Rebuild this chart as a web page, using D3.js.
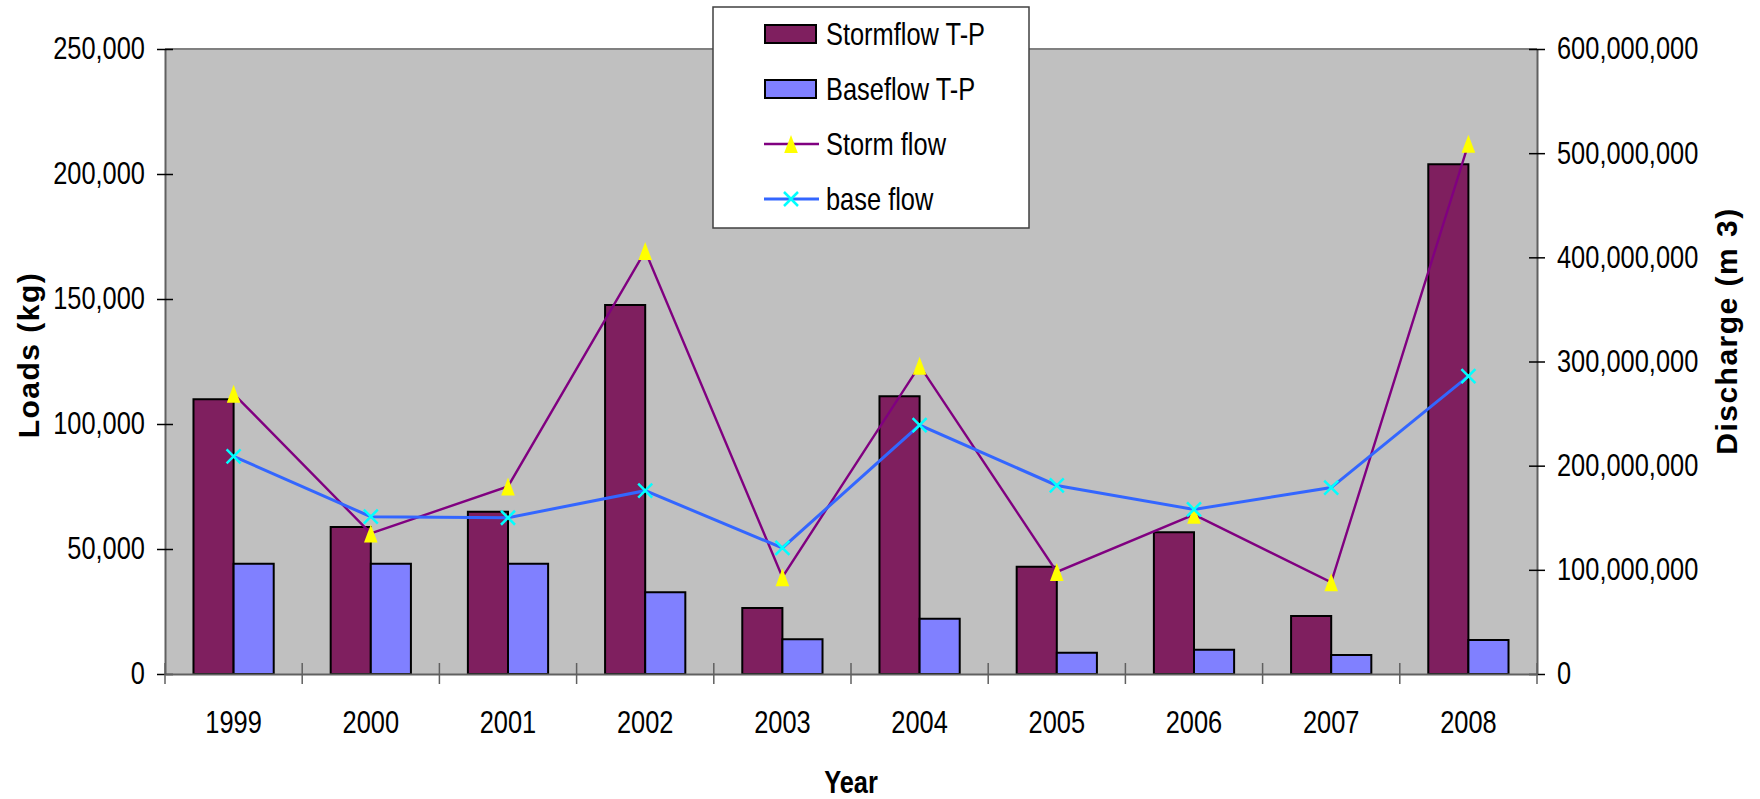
<!DOCTYPE html>
<html>
<head>
<meta charset="utf-8">
<script src="https://cdn.jsdelivr.net/npm/d3@7/dist/d3.min.js"></script>
<style>
  html, body { margin: 0; padding: 0; background: #fff; }
  svg text { font-family: 'Liberation Sans', Arial, sans-serif; fill: #000; }
</style>
</head>
<body>
<svg id="chart" width="1760" height="799"></svg>
<script>
// Annual total phosphorus loads (kg) and discharge volumes (m3)
const years = ["1999", "2000", "2001", "2002", "2003", "2004", "2005", "2006", "2007", "2008"];
const stormflowTP = [109900, 58800, 64900, 147600, 26400, 111100, 42900, 56700, 23200, 203900];
const baseflowTP  = [44100, 44100, 44100, 32700, 13900, 22100, 8500, 9700, 7600, 13600];
const stormFlow   = [269e6, 135e6, 180e6, 406e6, 93e6, 296e6, 98e6, 153e6, 88e6, 509e6];
const baseFlow    = [209e6, 151e6, 150e6, 176e6, 121e6, 239e6, 181e6, 158e6, 179e6, 286e6];
const loadTicks      = [0, 50000, 100000, 150000, 200000, 250000];
const dischargeTicks = [0, 100e6, 200e6, 300e6, 400e6, 500e6, 600e6];

const svg = d3.select("#chart");
const plot = { left: 165, right: 1537, top: 49, bottom: 674 };

const x = d3.scaleBand().domain(years).range([plot.left, plot.right]).paddingInner(0).paddingOuter(0);
const inner = d3.scaleBand().domain(["storm", "base"]).range([0, x.bandwidth()]).paddingInner(0).paddingOuter(0.71);
const yL = d3.scaleLinear().domain([0, 250000]).range([plot.bottom, plot.top]);
const yR = d3.scaleLinear().domain([0, 600e6]).range([plot.bottom, plot.top]);
const fmt = d3.format(",");

// condensed lettering: squeeze text horizontally around its own anchor
const SQ = 0.82;
function narrow(sel) {
  sel.each(function () {
    const t = d3.select(this);
    const xv = +(t.attr("x") || 0);
    t.attr("x", xv / SQ).attr("transform", `scale(${SQ},1)`);
  });
}

// plot background
svg.append("rect")
  .attr("x", plot.left).attr("y", plot.top)
  .attr("width", plot.right - plot.left).attr("height", plot.bottom - plot.top)
  .attr("fill", "#c0c0c0");
svg.append("line")
  .attr("x1", plot.left).attr("x2", plot.right)
  .attr("y1", plot.top).attr("y2", plot.top)
  .attr("stroke", "#808080").attr("stroke-width", 2);

// bars
const bars = svg.append("g");
bars.selectAll("rect.storm").data(stormflowTP).join("rect")
  .attr("class", "storm")
  .attr("x", (d, i) => x(years[i]) + inner("storm"))
  .attr("y", d => yL(d))
  .attr("width", inner.bandwidth())
  .attr("height", d => yL(0) - yL(d))
  .attr("fill", "#7f1f5f").attr("stroke", "#000").attr("stroke-width", 2);
bars.selectAll("rect.base").data(baseflowTP).join("rect")
  .attr("class", "base")
  .attr("x", (d, i) => x(years[i]) + inner("base"))
  .attr("y", d => yL(d))
  .attr("width", inner.bandwidth())
  .attr("height", d => yL(0) - yL(d))
  .attr("fill", "#8080ff").attr("stroke", "#000").attr("stroke-width", 2);

// axes
const axisColor = "#606060";
const leftAxis = svg.append("g").attr("transform", `translate(${plot.left},0)`)
  .call(d3.axisLeft(yL).tickValues(loadTicks).tickFormat(fmt).tickSize(8).tickSizeOuter(0).tickPadding(12));
const rightAxis = svg.append("g").attr("transform", `translate(${plot.right},0)`)
  .call(d3.axisRight(yR).tickValues(dischargeTicks).tickFormat(fmt).tickSize(8).tickSizeOuter(0).tickPadding(12));
[leftAxis, rightAxis].forEach(g => {
  g.select(".domain").attr("stroke", axisColor).attr("stroke-width", 2);
  g.selectAll(".tick line").attr("stroke", "#000").attr("stroke-width", 1.5);
  g.selectAll("text").attr("font-size", 31).attr("font-family", null);
});
// ticks cross the axis line
leftAxis.selectAll(".tick line").attr("x1", 8).attr("x2", -8);
rightAxis.selectAll(".tick line").attr("x1", -8).attr("x2", 8);
leftAxis.selectAll("text").attr("x", -20).call(narrow);
rightAxis.selectAll("text").attr("x", 20).call(narrow);

const bottomAxis = svg.append("g").attr("transform", `translate(0,${plot.bottom})`)
  .call(d3.axisBottom(x).tickSize(0).tickPadding(37));
bottomAxis.select(".domain").attr("stroke", axisColor).attr("stroke-width", 2);
bottomAxis.selectAll("text").attr("font-size", 31).attr("font-family", null).call(narrow);
// category boundary ticks
const bounds = years.map(y => x(y)).concat([plot.right]);
svg.append("g").selectAll("line").data(bounds).join("line")
  .attr("x1", d => d).attr("x2", d => d)
  .attr("y1", plot.bottom - 11).attr("y2", plot.bottom + 10)
  .attr("stroke", axisColor).attr("stroke-width", 1.5);

// lines
const cx = i => x(years[i]) + x.bandwidth() / 2;
const lineGen = d3.line().x((d, i) => cx(i)).y(d => yR(d));
svg.append("path").datum(stormFlow).attr("d", lineGen)
  .attr("fill", "none").attr("stroke", "#800080").attr("stroke-width", 2.4);
svg.append("path").datum(baseFlow).attr("d", lineGen)
  .attr("fill", "none").attr("stroke", "#3366ff").attr("stroke-width", 3);

// markers: tall yellow triangles and cyan crosses
const triPath = "M0,-9L6.8,9L-6.8,9Z";
svg.append("g").selectAll("path").data(stormFlow).join("path")
  .attr("transform", (d, i) => `translate(${cx(i)},${yR(d)})`)
  .attr("d", triPath).attr("fill", "#ffff00");
const crossPath = "M-7,-7L7,7M-7,7L7,-7";
svg.append("g").selectAll("path").data(baseFlow).join("path")
  .attr("transform", (d, i) => `translate(${cx(i)},${yR(d)})`)
  .attr("d", crossPath).attr("stroke", "#00ffff").attr("stroke-width", 2.5).attr("fill", "none");

// axis titles
svg.append("text").attr("transform", `translate(39,355) rotate(-90)`)
  .attr("text-anchor", "middle").attr("font-size", 30).attr("font-weight", "bold")
  .attr("letter-spacing", 1.5)
  .text("Loads (kg)");
svg.append("text").attr("transform", `translate(1737,331) rotate(-90)`)
  .attr("text-anchor", "middle").attr("font-size", 30).attr("font-weight", "bold")
  .attr("letter-spacing", 1.5)
  .text("Discharge (m 3)");
svg.append("text").attr("x", (plot.left + plot.right) / 2).attr("y", 793)
  .attr("text-anchor", "middle").attr("font-size", 31).attr("font-weight", "bold")
  .text("Year").call(narrow);

// legend
const legend = svg.append("g");
legend.append("rect").attr("x", 713).attr("y", 7).attr("width", 316).attr("height", 221)
  .attr("fill", "#fff").attr("stroke", "#404040").attr("stroke-width", 1.5);
const legendItems = [
  { label: "Stormflow T-P", kind: "bar", fill: "#7f1f5f" },
  { label: "Baseflow T-P", kind: "bar", fill: "#8080ff" },
  { label: "Storm flow", kind: "tri" },
  { label: "base flow", kind: "x" }
];
legendItems.forEach((it, i) => {
  const cy = 34 + i * 55;
  if (it.kind === "bar") {
    legend.append("rect").attr("x", 765).attr("y", cy - 9).attr("width", 51).attr("height", 18)
      .attr("fill", it.fill).attr("stroke", "#000").attr("stroke-width", 2);
  } else if (it.kind === "tri") {
    legend.append("line").attr("x1", 764).attr("x2", 819).attr("y1", cy).attr("y2", cy)
      .attr("stroke", "#800080").attr("stroke-width", 2.5);
    legend.append("path").attr("transform", `translate(791,${cy})`).attr("d", triPath).attr("fill", "#ffff00");
  } else {
    legend.append("line").attr("x1", 764).attr("x2", 819).attr("y1", cy).attr("y2", cy)
      .attr("stroke", "#3366ff").attr("stroke-width", 3);
    legend.append("path").attr("transform", `translate(791,${cy})`).attr("d", crossPath)
      .attr("stroke", "#00ffff").attr("stroke-width", 2.5).attr("fill", "none");
  }
  legend.append("text").attr("x", 826).attr("y", cy).attr("dy", "0.35em")
    .attr("font-size", 31).text(it.label).call(narrow);
});
</script>
</body>
</html>
